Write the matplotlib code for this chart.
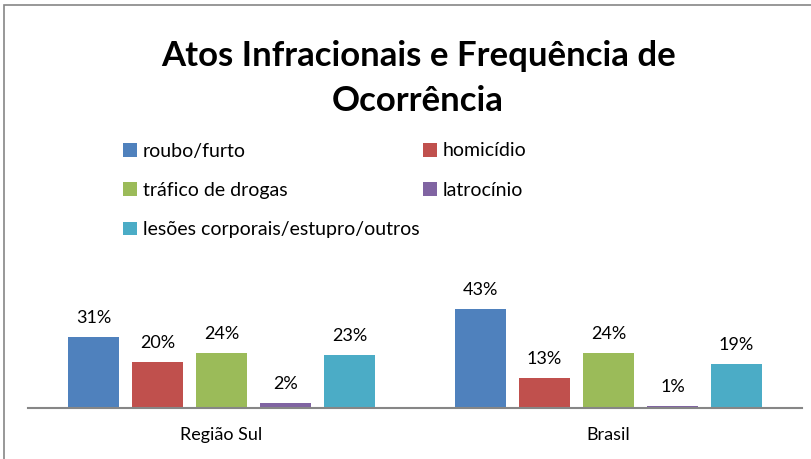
import matplotlib.pyplot as plt
import numpy as np
from matplotlib.patches import Rectangle

# dados
categorias = ["Região Sul", "Brasil"]
series = ["roubo/furto", "homicídio", "tráfico de drogas", "latrocínio",
          "lesões corporais/estupro/outros"]
roubo = [31, 43]
homicidio = [20, 13]
trafico = [24, 24]
latrocinio = [2, 1]
lesoes = [23, 19]
valores = [roubo, homicidio, trafico, latrocinio, lesoes]
cores = ["#4F81BD", "#C0504D", "#9BBB59", "#8064A2", "#4BACC6"]

plt.rcParams['font.family'] = ['Lato', 'DejaVu Sans']

fig = plt.figure(figsize=(8.12, 4.59), dpi=100)
ax = fig.add_axes([28 / 812, 51 / 459, 774 / 812, 115 / 459])

x = np.arange(len(categorias))
passo = 64 / 387
largura = 51 / 387
barras = []
for j, (nome, vals, cor) in enumerate(zip(series, valores, cores)):
    b = ax.bar(x + (j - 2) * passo, vals, largura, color=cor, label=nome)
    ax.bar_label(b, labels=[f"{v}%" for v in vals], padding=8, fontsize=13)
    barras.append(b)

ax.set_xlim(-0.5, 1.5)
ax.set_ylim(0, 50)
ax.set_yticks([])
ax.set_xticks(x)
ax.set_xticklabels(categorias, fontsize=13)
ax.tick_params(axis='x', length=0, pad=14)
for s in ["top", "right", "left"]:
    ax.spines[s].set_visible(False)
ax.spines["bottom"].set_color("#868686")
ax.spines["bottom"].set_linewidth(1.5)

# Título
fig.text(0.515, 1 - 78 / 459, "Atos Infracionais e Frequência de\nOcorrência",
         ha="center", va="center", fontsize=25, fontweight="bold",
         linespacing=1.5)

# Legenda (ordem por linhas)
ordem = [0, 2, 4, 1, 3]
fig.legend([barras[i] for i in ordem], [series[i] for i in ordem],
           ncol=2, loc="upper left", bbox_to_anchor=(106 / 812, 1 - 125 / 459),
           frameon=False, fontsize=14, handlelength=0.7, handleheight=0.7,
           handletextpad=0.3, labelspacing=1.15, columnspacing=0.2)

# Moldura
fig.add_artist(Rectangle((4 / 812, -0.1), 1.2, 1 - 5 / 459 + 0.1,
                         transform=fig.transFigure, fill=False,
                         edgecolor="#868686", linewidth=1.2))

plt.savefig("out.png", dpi=100)
